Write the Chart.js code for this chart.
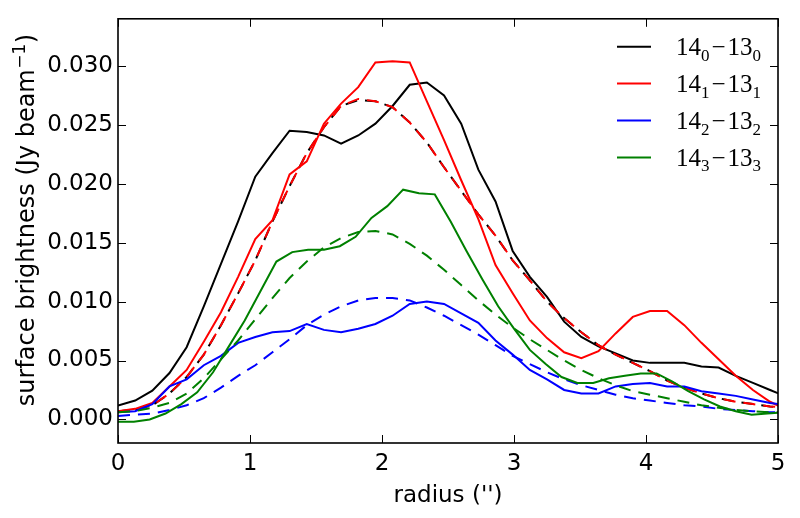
<!DOCTYPE html>
<html>
<head>
<meta charset="utf-8">
<script src="https://cdn.jsdelivr.net/npm/chart.js@4.4.1/dist/chart.umd.min.js"></script>
<style>
  html, body { margin: 0; padding: 0; background: #ffffff; }
  #wrap { width: 800px; height: 518px; position: relative; }
</style>
</head>
<body>
<div id="wrap"><canvas id="c" width="800" height="518"></canvas></div>
<script>
// radius grids (arcsec)
const radiusA = [0.00,0.13,0.26,0.39,0.52,0.65,0.78,0.91,1.04,1.17,1.30,1.43,1.56,1.69,1.82,1.95,2.08,2.21,2.34,2.47,2.60,2.73,2.86,2.99,3.12,3.25,3.38,3.51,3.64,3.77,3.90,4.03,4.16,4.29,4.42,4.55,4.68,4.81,4.94,5.07];
const radiusB = [0.00,0.12,0.24,0.36,0.48,0.60,0.72,0.84,0.96,1.08,1.20,1.32,1.44,1.56,1.68,1.80,1.92,2.04,2.16,2.28,2.40,2.52,2.64,2.76,2.88,3.00,3.12,3.24,3.36,3.48,3.60,3.72,3.84,3.96,4.08,4.20,4.32,4.44,4.56,4.68,4.80,4.92,5.04];

// observed profiles (solid)
const obsK0 = [0.00118,0.0016,0.00244,0.00394,0.00613,0.0096,0.0132,0.0168,0.0206,0.0226,0.0245,0.0244,0.0241,0.0234,0.0241,0.0251,0.0266,0.0284,0.0286,0.0275,0.0251,0.0212,0.0185,0.0143,0.0121,0.0104,0.0083,0.0070,0.0062,0.0056,0.0050,0.0048,0.0048,0.0048,0.0045,0.0044,0.0037,0.0031,0.0025,0.0019];
const obsK1 = [0.0007,0.0009,0.0014,0.0028,0.0042,0.0066,0.0091,0.0121,0.0153,0.0169,0.0208,0.0219,0.0251,0.0268,0.0282,0.0303,0.0304,0.0303,0.0270,0.0237,0.0203,0.0170,0.0131,0.0107,0.0084,0.0069,0.0057,0.0052,0.0058,0.0073,0.0087,0.0092,0.0092,0.0080,0.0065,0.0051,0.0037,0.0025,0.0015,0.0008];
const obsK2 = [0.0006,0.0007,0.0013,0.0028,0.0034,0.0046,0.0054,0.0065,0.0070,0.0074,0.0075,0.0081,0.0076,0.0074,0.0077,0.0081,0.0088,0.0098,0.0100,0.0098,0.0090,0.0082,0.0067,0.0055,0.0042,0.0034,0.0025,0.0022,0.0022,0.0028,0.0030,0.0031,0.0028,0.0028,0.0024,0.0022,0.0020,0.0017,0.0014,0.0012];
const obsK3 = [-0.0002,-0.0002,0.0000,0.0005,0.0013,0.0023,0.0040,0.0062,0.0084,0.0109,0.0134,0.0142,0.0144,0.0144,0.0147,0.0155,0.0171,0.0181,0.0195,0.0192,0.0191,0.0168,0.0143,0.0119,0.0096,0.0077,0.0059,0.0047,0.0036,0.0031,0.0031,0.0035,0.0037,0.0039,0.0039,0.0032,0.0024,0.0017,0.0011,0.0007,0.0004,0.0005,0.0006];

// model profiles (dashed)
const modK0 = [0.0007,0.0008,0.0012,0.0022,0.0036,0.0055,0.0080,0.0107,0.0135,0.0168,0.0198,0.0226,0.0248,0.0266,0.0271,0.0270,0.0265,0.0252,0.0235,0.0214,0.0194,0.0174,0.0156,0.0135,0.0118,0.0100,0.0086,0.0074,0.0063,0.0055,0.0048,0.0041,0.0033,0.0027,0.0022,0.0018,0.0015,0.0013,0.0011,0.0010];
const modK1 = [0.0007,0.0008,0.0012,0.0022,0.0036,0.0055,0.0080,0.0107,0.0135,0.0168,0.0198,0.0226,0.0248,0.0266,0.0272,0.0270,0.0265,0.0252,0.0235,0.0214,0.0194,0.0174,0.0156,0.0135,0.0118,0.0100,0.0086,0.0074,0.0063,0.0055,0.0048,0.0041,0.0033,0.0027,0.0022,0.0018,0.0015,0.0013,0.0011,0.0010];
const modK2 = [0.0003,0.0004,0.0005,0.0008,0.0012,0.0018,0.0027,0.0037,0.0046,0.0057,0.0068,0.0080,0.0089,0.0096,0.0101,0.0103,0.0103,0.0101,0.0095,0.0088,0.0080,0.0072,0.0063,0.0054,0.0047,0.0040,0.0034,0.0029,0.0025,0.0021,0.0018,0.0016,0.0014,0.0012,0.0011,0.0009,0.0008,0.0007,0.0006,0.0006];
const modK3 = [0.0006,0.0007,0.0010,0.0014,0.0022,0.0035,0.0051,0.0067,0.0085,0.0103,0.0120,0.0134,0.0146,0.0154,0.0159,0.0160,0.0157,0.0149,0.0139,0.0127,0.0114,0.0101,0.0089,0.0078,0.0068,0.0059,0.0050,0.0042,0.0035,0.0029,0.0024,0.0021,0.0018,0.0015,0.0012,0.0010,0.0008,0.0007,0.0006,0.0006];

const xTicks = [0,1,2,3,4,5];
const yTicks = [0.000,0.005,0.010,0.015,0.020,0.025,0.030];
const legendK = ['0','1','2','3'];
const seriesColors = ['#000000','#ff0000','#0000ff','#008000'];
const yTitleMain = 'surface brightness (Jy beam';
const yTitleSup = '\u22121';
const yTitleEnd = ')';

function pts(xs, ys) { return ys.map((v, i) => ({x: xs[i], y: v})); }

const obs = [[radiusA, obsK0],[radiusA, obsK1],[radiusA, obsK2],[radiusB, obsK3]];
const mod = [modK0, modK1, modK2, modK3];

const datasets = [];
let ord = 100;
for (let k = 0; k < 4; k++) {
  datasets.push({
    label: '14_' + legendK[k] + '-13_' + legendK[k],
    data: pts(obs[k][0], obs[k][1]),
    borderColor: seriesColors[k], borderWidth: 2, pointRadius: 0, tension: 0, fill: false,
    order: ord--
  });
  datasets.push({
    label: 'model ' + legendK[k],
    data: pts(radiusA, mod[k]),
    borderColor: seriesColors[k], borderWidth: 2, pointRadius: 0, tension: 0, fill: false,
    borderDash: [12, 8], borderDashOffset: k === 0 ? 2.5 : 0,
    order: ord--
  });
}

const framePlugin = {
  id: 'frame',
  afterDraw(chart) {
    const {ctx, chartArea: a, scales: {x, y}} = chart;
    ctx.save();
    ctx.strokeStyle = '#000';
    ctx.lineWidth = 1;
    const TL = 8;
    xTicks.forEach(v => {
      const p = Math.round(x.getPixelForValue(v)) + 0.5;
      ctx.beginPath(); ctx.moveTo(p, a.bottom); ctx.lineTo(p, a.bottom - TL); ctx.stroke();
      ctx.beginPath(); ctx.moveTo(p, a.top); ctx.lineTo(p, a.top + TL); ctx.stroke();
    });
    yTicks.forEach(v => {
      const p = Math.round(y.getPixelForValue(v)) + 0.5;
      ctx.beginPath(); ctx.moveTo(a.left, p); ctx.lineTo(a.left + TL, p); ctx.stroke();
      ctx.beginPath(); ctx.moveTo(a.right, p); ctx.lineTo(a.right - TL, p); ctx.stroke();
    });
    ctx.lineWidth = 1.6;
    ctx.strokeRect(a.left, a.top, a.right - a.left, a.bottom - a.top);

    // y-axis title with superscript
    ctx.save();
    ctx.translate(34, 220);
    ctx.rotate(-Math.PI / 2);
    ctx.fillStyle = '#000';
    ctx.textBaseline = 'alphabetic';
    ctx.textAlign = 'left';
    const fMain = '24px "DejaVu Sans"';
    const fSup = '17px "DejaVu Sans"';
    ctx.font = fMain;
    const w1 = ctx.measureText(yTitleMain).width;
    const w3 = ctx.measureText(yTitleEnd).width;
    ctx.font = fSup;
    const w2 = ctx.measureText(yTitleSup).width;
    let tx = -(w1 + w2 + w3 + 1) / 2;
    ctx.font = fMain; ctx.fillText(yTitleMain, tx, 0); tx += w1 + 0.5;
    ctx.font = fSup; ctx.fillText(yTitleSup, tx, -9); tx += w2 + 0.5;
    ctx.font = fMain; ctx.fillText(yTitleEnd, tx, 0);
    ctx.restore();

    // legend
    const big = '25px "Liberation Serif", "DejaVu Serif", serif';
    const small = '17px "Liberation Serif", "DejaVu Serif", serif';
    for (let k = 0; k < 4; k++) {
      const ly = 46.7 + 36.9 * k;
      ctx.strokeStyle = seriesColors[k];
      ctx.lineWidth = 2;
      ctx.beginPath(); ctx.moveTo(617, ly); ctx.lineTo(651, ly); ctx.stroke();
      ctx.fillStyle = '#000';
      ctx.textBaseline = 'alphabetic';
      ctx.textAlign = 'left';
      let lx = 676;
      const base = ly + 8.5;
      const sub = base + 5.5;
      ctx.font = big; ctx.fillText('14', lx, base); lx += ctx.measureText('14').width;
      ctx.font = small; ctx.fillText(legendK[k], lx, sub); lx += ctx.measureText(legendK[k]).width + 2;
      ctx.font = big; ctx.fillText('\u2212', lx, base); lx += ctx.measureText('\u2212').width + 2;
      ctx.fillText('13', lx, base); lx += ctx.measureText('13').width;
      ctx.font = small; ctx.fillText(legendK[k], lx, sub);
    }
    ctx.restore();
  }
};

new Chart(document.getElementById('c'), {
  type: 'line',
  data: { datasets },
  options: {
    responsive: false,
    animation: false,
    devicePixelRatio: 1,
    layout: { padding: { left: 0, right: 22, top: 16, bottom: 0 } },
    plugins: { legend: { display: false }, tooltip: { enabled: false } },
    scales: {
      x: {
        type: 'linear', min: 0, max: 5,
        afterBuildTicks(s) { s.ticks = xTicks.map(v => ({value: v})); },
        afterFit(s) { s.height = 75; },
        grid: { display: false, drawTicks: false },
        border: { display: false },
        ticks: { color: '#000', font: { family: '"DejaVu Sans"', size: 23 }, padding: 7, maxRotation: 0,
                 callback: v => String(v) },
        title: { display: true, text: "radius ('')", color: '#000',
                 font: { family: '"DejaVu Sans"', size: 23 }, padding: { top: 0, bottom: 8 } }
      },
      y: {
        type: 'linear', min: -0.002, max: 0.034,
        afterBuildTicks(s) { s.ticks = yTicks.map(v => ({value: v})); },
        afterFit(s) { s.width = 118; },
        grid: { display: false, drawTicks: false },
        border: { display: false },
        ticks: { color: '#000', font: { family: '"DejaVu Sans"', size: 23 }, padding: 5,
                 callback: v => Number(v).toFixed(3) },
        title: { display: false }
      }
    }
  },
  plugins: [framePlugin]
});
</script>
</body>
</html>
